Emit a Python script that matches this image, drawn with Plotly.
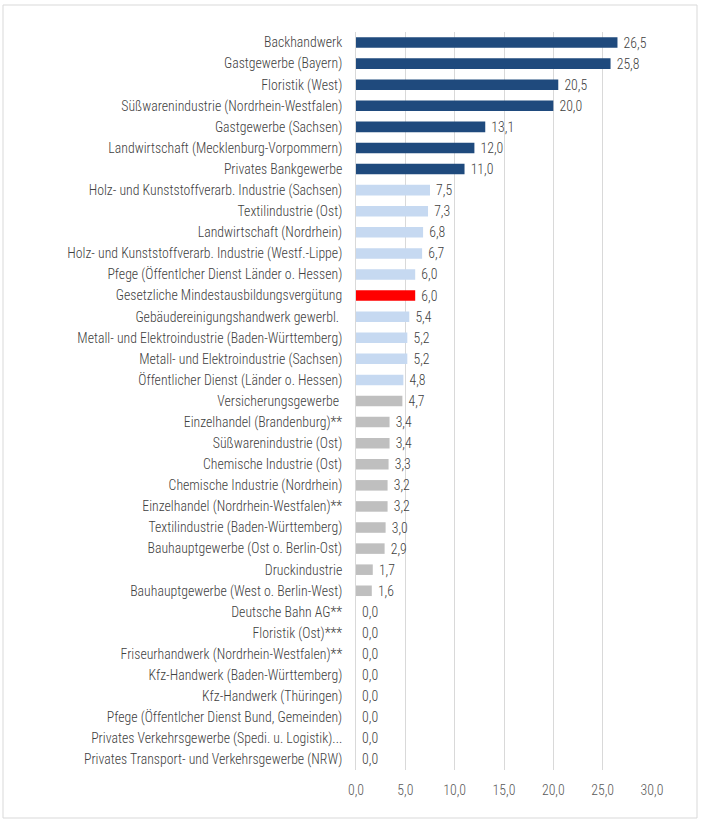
import plotly.graph_objects as go

categories = [
    "Backhandwerk",
    "Gastgewerbe (Bayern)",
    "Floristik (West)",
    "Süßwarenindustrie (Nordrhein-Westfalen)",
    "Gastgewerbe (Sachsen)",
    "Landwirtschaft (Mecklenburg-Vorpommern)",
    "Privates Bankgewerbe",
    "Holz- und Kunststoffverarb. Industrie (Sachsen)",
    "Textilindustrie (Ost)",
    "Landwirtschaft (Nordrhein)",
    "Holz- und Kunststoffverarb. Industrie (Westf.-Lippe)",
    "Pfege (Öffentlcher Dienst Länder o. Hessen)",
    "Gesetzliche Mindestausbildungsvergütung",
    "Gebäudereinigungshandwerk gewerbl. ",
    "Metall- und Elektroindustrie (Baden-Württemberg)",
    "Metall- und Elektroindustrie (Sachsen)",
    "Öffentlicher Dienst (Länder o. Hessen)",
    "Versicherungsgewerbe ",
    "Einzelhandel (Brandenburg)**",
    "Süßwarenindustrie (Ost)",
    "Chemische Industrie (Ost)",
    "Chemische Industrie (Nordrhein)",
    "Einzelhandel (Nordrhein-Westfalen)**",
    "Textilindustrie (Baden-Württemberg)",
    "Bauhauptgewerbe (Ost o. Berlin-Ost)",
    "Druckindustrie",
    "Bauhauptgewerbe (West o. Berlin-West)",
    "Deutsche Bahn AG**",
    "Floristik (Ost)***",
    "Friseurhandwerk (Nordrhein-Westfalen)**",
    "Kfz-Handwerk (Baden-Württemberg)",
    "Kfz-Handwerk (Thüringen)",
    "Pfege (Öffentlcher Dienst Bund, Gemeinden)",
    "Privates Verkehrsgewerbe (Spedi. u. Logistik)...",
    "Privates Transport- und Verkehrsgewerbe (NRW)",
]
values = [26.5, 25.8, 20.5, 20.0, 13.1, 12.0, 11.0, 7.5, 7.3, 6.8, 6.7, 6.0, 6.0,
          5.4, 5.2, 5.2, 4.8, 4.7, 3.4, 3.4, 3.3, 3.2, 3.2, 3.0, 2.9, 1.7, 1.6,
          0.0, 0.0, 0.0, 0.0, 0.0, 0.0, 0.0, 0.0]
groups = ["top"] * 7 + ["mid"] * 5 + ["min"] + ["mid"] * 4 + ["low"] * 18

x_ticks = [0, 5, 10, 15, 20, 25, 30]

palette = {"top": "#1F4A7D", "mid": "#C6D9F1", "min": "#FF0000", "low": "#BFBFBF"}
colors = [palette[g] for g in groups]

FONT = "Liberation Sans Narrow, Arial Narrow, Roboto Condensed, Liberation Sans, Arial, sans-serif"
FS = 13.8
W = 300

fig = go.Figure(go.Bar(
    x=values,
    y=categories,
    orientation="h",
    marker=dict(color=colors, line=dict(width=0)),
    width=0.5,
    text=[" " + f"{v:.1f}".replace(".", ",") for v in values],
    textposition="outside",
    constraintext="none",
    textfont=dict(family=FONT, size=FS, color="#404040", weight=W),
    outsidetextfont=dict(family=FONT, size=FS, color="#404040", weight=W),
    cliponaxis=False,
    hoverinfo="x+y",
))

fig.update_layout(
    width=702,
    height=824,
    margin=dict(l=356, r=50, t=32, b=54),
    paper_bgcolor="white",
    plot_bgcolor="white",
    separators=",.",
    showlegend=False,
    font=dict(family=FONT, size=FS, color="#404040", weight=W),
    xaxis=dict(
        range=[0, 30],
        tickvals=x_ticks,
        tickformat=".1f",
        showgrid=True,
        gridcolor="#D9D9D9",
        gridwidth=1,
        zeroline=False,
        showline=False,
        ticks="",
        ticklabelstandoff=10,
        tickfont=dict(size=FS, color="#595959", weight=W),
    ),
    yaxis=dict(
        autorange="reversed",
        showgrid=False,
        zeroline=False,
        showline=True,
        linecolor="#D9D9D9",
        linewidth=1,
        ticks="",
        ticklabelstandoff=10,
        tickfont=dict(size=FS, color="#404040", weight=W),
    ),
    shapes=[dict(
        type="rect", xref="paper", yref="paper",
        x0=(3 - 356) / 296, x1=(697 - 356) / 296,
        y0=(770 - 818) / 738, y1=(770 - 5) / 738,
        line=dict(color="#D9D9D9", width=1),
        fillcolor="rgba(0,0,0,0)",
        layer="below",
    )],
)

fig.write_html(
    "out.html",
    config={"displayModeBar": False},
    post_script="document.body.style.margin='0';document.body.style.overflow='hidden';",
)
